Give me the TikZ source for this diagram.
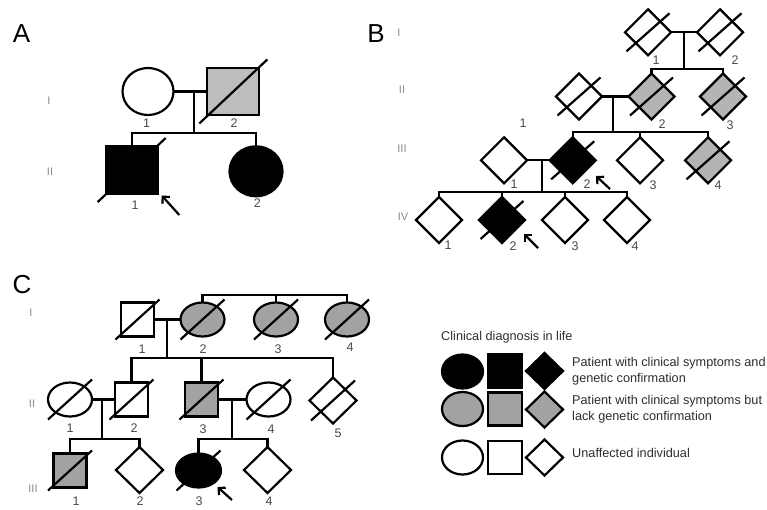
\documentclass[tikz,border=0pt]{standalone}
\usepackage{fontspec}
\setmainfont{Liberation Sans}
\usetikzlibrary{shapes.geometric,arrows.meta,calc}
\definecolor{greyA}{HTML}{BDBDBD}
\definecolor{greyB}{HTML}{B4B4B4}
\definecolor{greyC}{HTML}{A2A2A2}
\definecolor{numcol}{HTML}{4A4A4A}
\definecolor{gencol}{HTML}{8A8A8A}
\definecolor{txtcol}{HTML}{2E2E2E}
\tikzset{
  ln/.style={line width=2.2pt, black},
  base/.style={draw=black, line width=2.2pt, inner sep=0pt, outer sep=0pt},
  Asq/.style={base, rectangle, minimum width=52pt, minimum height=47pt},
  Acirc/.style={base, ellipse, minimum width=51pt, minimum height=47pt},
  Bdia/.style={base, diamond, minimum width=46pt, minimum height=46pt},
  Csq/.style={base, rectangle, minimum width=33pt, minimum height=34pt},
  Cell/.style={base, ellipse, minimum width=44pt, minimum height=34pt},
  Cdia/.style={base, diamond, minimum width=47pt, minimum height=46pt},
  Lsq/.style={base, rectangle, minimum width=34pt, minimum height=33pt},
  Lell/.style={base, ellipse, minimum width=41pt, minimum height=34pt},
  Ldia/.style={base, diamond, minimum width=37pt, minimum height=36pt},
  num/.style={text=numcol, font=\fontsize{12.5}{14}\selectfont, inner sep=0pt},
  gen/.style={text=gencol, font=\fontsize{11}{13}\selectfont, inner sep=0pt},
  panel/.style={text=black, font=\fontsize{26}{28}\selectfont, inner sep=0pt},
  legtxt/.style={text=txtcol, font=\fontsize{12.7}{16}\selectfont, inner sep=0pt, anchor=west, align=left},
  arr/.style={line width=2.2pt, -{Straight Barb[length=5pt,width=10pt]}},
}
\newcommand{\dslash}[3]{\draw[ln] ($(#1)+(-#2,#3)$) -- ($(#1)+(#2,-#3)$);}
\begin{document}
\begin{tikzpicture}[x=1pt,y=-1pt]
\useasboundingbox[fill=white] (0,0) rectangle (767,509);

%% ---------------- Panel A ----------------
\node[panel] (labA) at (21.5,34) {A};
\node[gen] (gAI) at (49,101) {I};
\node[gen] (gAII) at (50,172) {II};

\node[Acirc, fill=white] (AI1) at (148,91.5) {};
\node[Asq, fill=greyA] (AI2) at (233.3,91.5) {};
\node[Asq, fill=black] (AII1) at (131.7,170) {};
\node[Acirc, fill=black, minimum width=53pt, minimum height=50pt] (AII2) at (256,171.3) {};
\dslash{AI2}{34}{32}
\dslash{AII1}{34}{32}

\coordinate (Am) at (194,91.5);
\coordinate (As) at (194,132.7);
\draw[ln] (AI1.east) -- (AI2.west);
\draw[ln] (Am) -- (As);
\draw[ln] (AII1.north) |- (As) -| (AII2.north);

\node[num] (nAI1) at (146.7,123.3) {1};
\node[num] (nAI2) at (234,123.3) {2};
\node[num] (nAII1) at (135,205) {1};
\node[num] (nAII2) at (257.3,203.3) {2};

\coordinate (aA0) at (179.3,215);
\coordinate (aA1) at (161.7,195.5);
\draw[arr] (aA0) -- (aA1);

%% ---------------- Panel B ----------------
\node[panel] (labB) at (376,34) {B};
\node[gen] (gBI) at (399,33) {I};
\node[gen] (gBII) at (402,90) {II};
\node[gen] (gBIII) at (402,149) {III};
\node[gen] (gBIV) at (403,217) {IV};

\node[Bdia, fill=white] (BI1) at (648,32.3) {};
\node[Bdia, fill=white] (BI2) at (720,32.3) {};
\node[Bdia, fill=white] (BII1) at (579,96.5) {};
\node[Bdia, fill=greyB] (BII2) at (651.5,96.5) {};
\node[Bdia, fill=greyB] (BII3) at (723,96.5) {};
\node[Bdia, fill=white] (BIII1) at (504,160.3) {};
\node[Bdia, fill=black] (BIII2) at (572.7,160.3) {};
\node[Bdia, fill=white] (BIII3) at (640,160.3) {};
\node[Bdia, fill=greyB] (BIII4) at (708,160.3) {};
\node[Bdia, fill=white] (BIV1) at (439,220) {};
\node[Bdia, fill=black] (BIV2) at (502,220) {};
\node[Bdia, fill=white] (BIV3) at (565,220) {};
\node[Bdia, fill=white] (BIV4) at (627,220) {};
\foreach \n in {BI1,BI2,BII1,BII2,BII3,BIII2,BIII4,BIV2}{\dslash{\n}{21.5}{19}}

\coordinate (Bm1) at (684,32.3);
\coordinate (Bs1) at (684,69);
\draw[ln] (BI1.east) -- (BI2.west);
\draw[ln] (Bm1) -- (Bs1);
\draw[ln] (BII2.north) |- (Bs1) -| (BII3.north);

\coordinate (Bm2) at (613.3,96.5);
\coordinate (Bs2) at (613.3,132);
\draw[ln] (BII1.east) -- (BII2.west);
\draw[ln] (Bm2) -- (Bs2);
\draw[ln] (BIII2.north) |- (Bs2) -| (BIII4.north);
\draw[ln] (BIII3.north) -- (BIII3.north |- Bs2);

\coordinate (Bm3) at (541.7,160.3);
\coordinate (Bs3) at (541.7,192.3);
\draw[ln] (BIII1.east) -- (BIII2.west);
\draw[ln] (Bm3) -- (Bs3);
\draw[ln] (BIV1.north) |- (Bs3) -| (BIV4.north);
\draw[ln] (BIV2.north) -- (BIV2.north |- Bs3);
\draw[ln] (BIV3.north) -- (BIV3.north |- Bs3);

\node[num] (nBI1) at (656,60) {1};
\node[num] (nBI2) at (735,60) {2};
\node[num] (nBfl) at (523,123) {1};
\node[num] (nBII2) at (662,124) {2};
\node[num] (nBII3) at (730,125) {3};
\node[num] (nBIII1) at (514,184) {1};
\node[num] (nBIII2) at (587,184) {2};
\node[num] (nBIII3) at (653,185) {3};
\node[num] (nBIII4) at (718,185) {4};
\node[num] (nBIV1) at (448,245) {1};
\node[num] (nBIV2) at (513,246) {2};
\node[num] (nBIV3) at (575,246) {3};
\node[num] (nBIV4) at (635,246) {4};

\coordinate (aB0) at (610,189);
\coordinate (aB1) at (596,176);
\draw[arr] (aB0) -- (aB1);
\coordinate (aB2) at (538,248);
\coordinate (aB3) at (524,234);
\draw[arr] (aB2) -- (aB3);

%% ---------------- Panel C ----------------
\node[panel] (labC) at (22,285) {C};
\node[gen] (gCI) at (31,313) {I};
\node[gen] (gCII) at (32,404) {II};
\node[gen] (gCIII) at (33,489) {III};

\node[Csq, fill=white] (CI1) at (137.5,319.5) {};
\node[Cell, fill=greyC] (CI2) at (202.5,319.5) {};
\node[Cell, fill=greyC] (CI3) at (276,319.5) {};
\node[Cell, fill=greyC] (CI4) at (347,319.5) {};
\node[Cell, fill=white] (CII1) at (70,399.5) {};
\node[Csq, fill=white] (CII2) at (131.5,399.5) {};
\node[Csq, fill=greyC] (CII3) at (201.5,399.5) {};
\node[Cell, fill=white] (CII4) at (268.5,399.5) {};
\node[Cdia, fill=white] (CII5) at (333,400.5) {};
\node[Csq, fill=greyC] (CIII1) at (70,470.5) {};
\node[Cdia, fill=white] (CIII2) at (139.5,470) {};
\node[Cell, fill=black, minimum width=45pt] (CIII3) at (198.5,470.5) {};
\node[Cdia, fill=white] (CIII4) at (267.5,470) {};
\foreach \n in {CI1,CI2,CI3,CI4,CII1,CII2,CII3,CII4,CII5,CIII1,CIII3}{\dslash{\n}{22}{20}}

\coordinate (Ct) at (276,295);
\draw[ln] (CI2.north) |- (Ct) -| (CI4.north);
\draw[ln] (CI3.north) -- (Ct);

\coordinate (Cm1) at (167,319.5);
\coordinate (Cs1) at (167,358);
\draw[ln] (CI1.east) -- (CI2.west);
\draw[ln] (Cm1) -- (Cs1);
\draw[ln] (CII2.north) |- (Cs1) -| (CII5.north);
\draw[ln] (CII3.north) -- (CII3.north |- Cs1);

\coordinate (Cm2) at (102,399.5);
\coordinate (Cs2) at (102,439);
\draw[ln] (CII1.east) -- (CII2.west);
\draw[ln] (Cm2) -- (Cs2);
\draw[ln] (CIII1.north) |- (Cs2) -| (CIII2.north);

\coordinate (Cm3) at (232,399.5);
\coordinate (Cs3) at (232,439);
\draw[ln] (CII3.east) -- (CII4.west);
\draw[ln] (Cm3) -- (Cs3);
\draw[ln] (CIII3.north) |- (Cs3) -| (CIII4.north);

\node[num] (nCI1) at (142,349) {1};
\node[num] (nCI2) at (203,349) {2};
\node[num] (nCI3) at (278,349) {3};
\node[num] (nCI4) at (350,347) {4};
\node[num] (nCII1) at (70,428) {1};
\node[num] (nCII2) at (134,428) {2};
\node[num] (nCII3) at (203,429) {3};
\node[num] (nCII4) at (271,429) {4};
\node[num] (nCII5) at (338,433) {5};
\node[num] (nCIII1) at (76,501.5) {1};
\node[num] (nCIII2) at (140,501.5) {2};
\node[num] (nCIII3) at (199,501.5) {3};
\node[num] (nCIII4) at (269,501.5) {4};

\coordinate (aC0) at (232,500);
\coordinate (aC1) at (217.5,487);
\draw[arr] (aC0) -- (aC1);

%% ---------------- Legend ----------------
\node[legtxt] (lt0) at (441,337) {Clinical diagnosis in life};
\node[Lell, fill=black] (L1e) at (462.5,371.5) {};
\node[Lsq, fill=black] (L1s) at (505,371) {};
\node[Ldia, fill=black] (L1d) at (544.5,371) {};
\node[legtxt] (lt1) at (572,371) {Patient with clinical symptoms and\\genetic confirmation};
\node[Lell, fill=greyC] (L2e) at (462.5,409) {};
\node[Lsq, fill=greyC] (L2s) at (505,409) {};
\node[Ldia, fill=greyC] (L2d) at (544.5,409.5) {};
\node[legtxt] (lt2) at (572,409) {Patient with clinical symptoms but\\lack genetic confirmation};
\node[Lell, fill=white] (L3e) at (462.5,457.5) {};
\node[Lsq, fill=white] (L3s) at (505,457.5) {};
\node[Ldia, fill=white] (L3d) at (544.5,457.5) {};
\node[legtxt] (lt3) at (572,453) {Unaffected individual};
\end{tikzpicture}
\end{document}
